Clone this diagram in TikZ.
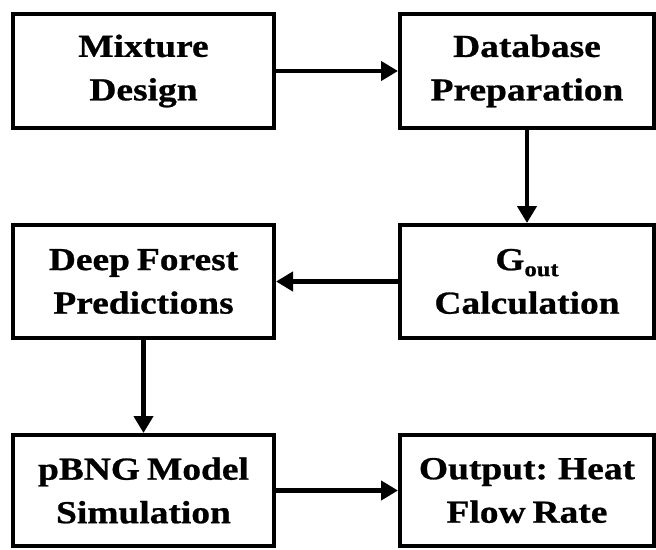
\documentclass[tikz,border=0pt]{standalone}
\usepackage{fontspec}
\usetikzlibrary{arrows.meta}
\newfontfamily\boxfont{Liberation Serif}[FakeStretch=1.17, FakeBold=0.8, WordSpace=0.75]
\tikzset{
  stage/.style={draw=black, line width=4pt, fill=white, align=center, inner sep=0pt,
    font=\boxfont\bfseries\fontsize{32}{43.5}\selectfont},
  flow/.style={line width=4.5pt, -{Triangle[width=19pt,length=17pt]}}
}
\begin{document}
\begin{tikzpicture}[x=1pt, y=-1pt]
  \useasboundingbox (0,0) rectangle (656,549);
  % left column: x 13..274, right column: x 400..654
  \node[stage, minimum width=261pt, minimum height=114pt] (mix) at (143.5,71) {Mixture\\Design};
  \node[stage, minimum width=254pt, minimum height=114pt] (db) at (527,71) {Database\\Preparation};
  \node[stage, minimum width=254pt, minimum height=113pt] (gout) at (527,281.5)
    {G\raisebox{-6pt}{\fontsize{21}{21}\selectfont out}\\Calculation};
  \node[stage, minimum width=261pt, minimum height=113pt] (df) at (143.5,281.5) {Deep Forest\\Predictions};
  \node[stage, minimum width=261pt, minimum height=111pt] (pbng) at (143.5,490.5) {pBNG Model\\Simulation};
  \node[stage, minimum width=254pt, minimum height=111pt] (out) at (527,490.5) {Output: Heat\\Flow Rate};

  \draw[flow] (mix.east) -- (db.west);
  \draw[flow] (db.south) -- (gout.north);
  \draw[flow] (gout.west) -- (df.east);
  \draw[flow] (df.south) -- (pbng.north);
  \draw[flow] (pbng.east) -- (out.west);
\end{tikzpicture}
\end{document}
